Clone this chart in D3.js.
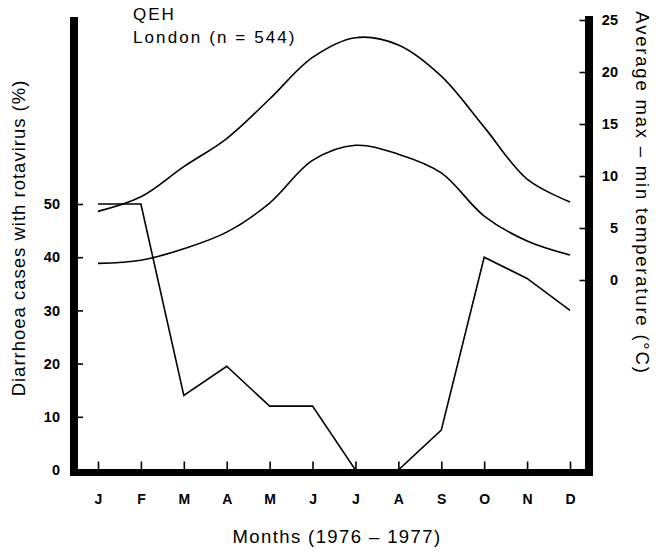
<!DOCTYPE html>
<html>
<head>
<meta charset="utf-8">
<script src="https://cdn.jsdelivr.net/npm/d3@7"></script>
<style>
  body { margin: 0; background: #fff; }
  svg { display: block; font-family: "Liberation Sans", Arial, Helvetica, sans-serif; }
</style>
</head>
<body>
<svg id="chart"></svg>
<script>
// monthly data, Jan 1976 .. Dec 1977 season
const months = ["J", "F", "M", "A", "M", "J", "J", "A", "S", "O", "N", "D"];
const rotavirus = [50, 50, 14, 19.5, 12, 12, 0, 0, 7.5, 40, 36, 30];
const maxTemp = [6.6, 8.0, 10.9, 13.6, 17.4, 21.4, 23.3, 22.6, 19.6, 14.7, 9.7, 7.5];
const minTemp = [1.6, 1.9, 3.0, 4.6, 7.4, 11.5, 12.95, 12.1, 10.3, 6.15, 3.75, 2.4];
const pctTicks = [0, 10, 20, 30, 40, 50];
const tempTicks = [0, 5, 10, 15, 20, 25];

const width = 656;
const height = 552;

const svg = d3.select("#chart").attr("width", width).attr("height", height);

const leftX = 74;
const rightX = 589;
const baseY = 472.5;
const topY = 17;

const x = d3.scaleLinear().domain([0, 11]).range([98, 570]);
const yPct = d3.scaleLinear().domain([0, 50]).range([470, 204]);
const yTemp = d3.scaleLinear().domain([0, 25]).range([280, 20]);

// left axis (%)
const leftAxis = svg
  .append("g")
  .attr("transform", `translate(${leftX}, 0)`)
  .call(d3.axisLeft(yPct).tickValues(pctTicks).tickSize(-9).tickPadding(14));
leftAxis.select(".domain").remove();
leftAxis.selectAll("line").attr("stroke", "#000").attr("stroke-width", 1.6);
leftAxis
  .selectAll("text")
  .attr("font-size", "14.5px")
  .attr("font-weight", "bold")
  .attr("fill", "#000");

// right axis (temperature)
const rightAxis = svg
  .append("g")
  .attr("transform", `translate(${rightX}, 0)`)
  .call(d3.axisRight(yTemp).tickValues(tempTicks).tickSize(-9.5).tickPadding(0));
rightAxis.select(".domain").remove();
rightAxis.selectAll("line").attr("stroke", "#000").attr("stroke-width", 1.6);
rightAxis
  .selectAll("text")
  .attr("x", 29)
  .attr("text-anchor", "end")
  .attr("font-size", "14.5px")
  .attr("font-weight", "bold")
  .attr("fill", "#000");

// month axis
const bottomAxis = svg
  .append("g")
  .attr("transform", `translate(0, ${baseY})`)
  .call(
    d3
      .axisBottom(x)
      .tickValues(d3.range(months.length))
      .tickFormat((i) => months[i])
      .tickSize(-11)
      .tickPadding(22)
  );
bottomAxis.select(".domain").remove();
bottomAxis.selectAll("line").attr("stroke", "#000").attr("stroke-width", 1.6);
bottomAxis
  .selectAll("text")
  .attr("font-size", "14px")
  .attr("font-weight", "bold")
  .attr("fill", "#000");

// heavy frame bars
svg
  .append("path")
  .attr("d", `M${leftX},${topY}V${baseY + 3.5}`)
  .attr("stroke", "#000")
  .attr("stroke-width", 8);
svg
  .append("path")
  .attr("d", `M${rightX},${topY - 1}V${baseY + 3.5}`)
  .attr("stroke", "#000")
  .attr("stroke-width", 8);
svg
  .append("path")
  .attr("d", `M${leftX - 4},${baseY}H${rightX + 4}`)
  .attr("stroke", "#000")
  .attr("stroke-width", 7);

// temperature curves
const tempLine = d3
  .line()
  .x((d, i) => x(i))
  .y((d) => yTemp(d))
  .curve(d3.curveCatmullRom.alpha(0.5));

[maxTemp, minTemp].forEach((series) => {
  svg
    .append("path")
    .datum(series)
    .attr("fill", "none")
    .attr("stroke", "#000")
    .attr("stroke-width", 1.6)
    .attr("d", tempLine);
});

// rotavirus percentage
const pctLine = d3
  .line()
  .x((d, i) => x(i))
  .y((d) => yPct(d));
svg
  .append("path")
  .datum(rotavirus)
  .attr("fill", "none")
  .attr("stroke", "#000")
  .attr("stroke-width", 1.6)
  .attr("stroke-linejoin", "miter")
  .attr("d", pctLine);

// labels
svg
  .append("text")
  .attr("x", 133)
  .attr("y", 20)
  .attr("font-size", "17px")
  .attr("letter-spacing", "2px")
  .text("QEH");
svg
  .append("text")
  .attr("x", 133)
  .attr("y", 43)
  .attr("font-size", "17px")
  .attr("letter-spacing", "2.1px")
  .text("London (n = 544)");

svg
  .append("text")
  .attr("text-anchor", "middle")
  .attr("x", 337)
  .attr("y", 543)
  .attr("font-size", "18.5px")
  .attr("letter-spacing", "1.4px")
  .text("Months (1976 \u2013 1977)");

svg
  .append("text")
  .attr("text-anchor", "middle")
  .attr("transform", "translate(25, 238) rotate(-90)")
  .attr("font-size", "18.5px")
  .attr("letter-spacing", "1px")
  .text("Diarrhoea cases with rotavirus (%)");

svg
  .append("text")
  .attr("text-anchor", "middle")
  .attr("transform", "translate(636, 193) rotate(90)")
  .attr("font-size", "18.5px")
  .attr("letter-spacing", "1.8px")
  .text("Average max \u2013 min temperature (\u00b0C)");
</script>
</body>
</html>
